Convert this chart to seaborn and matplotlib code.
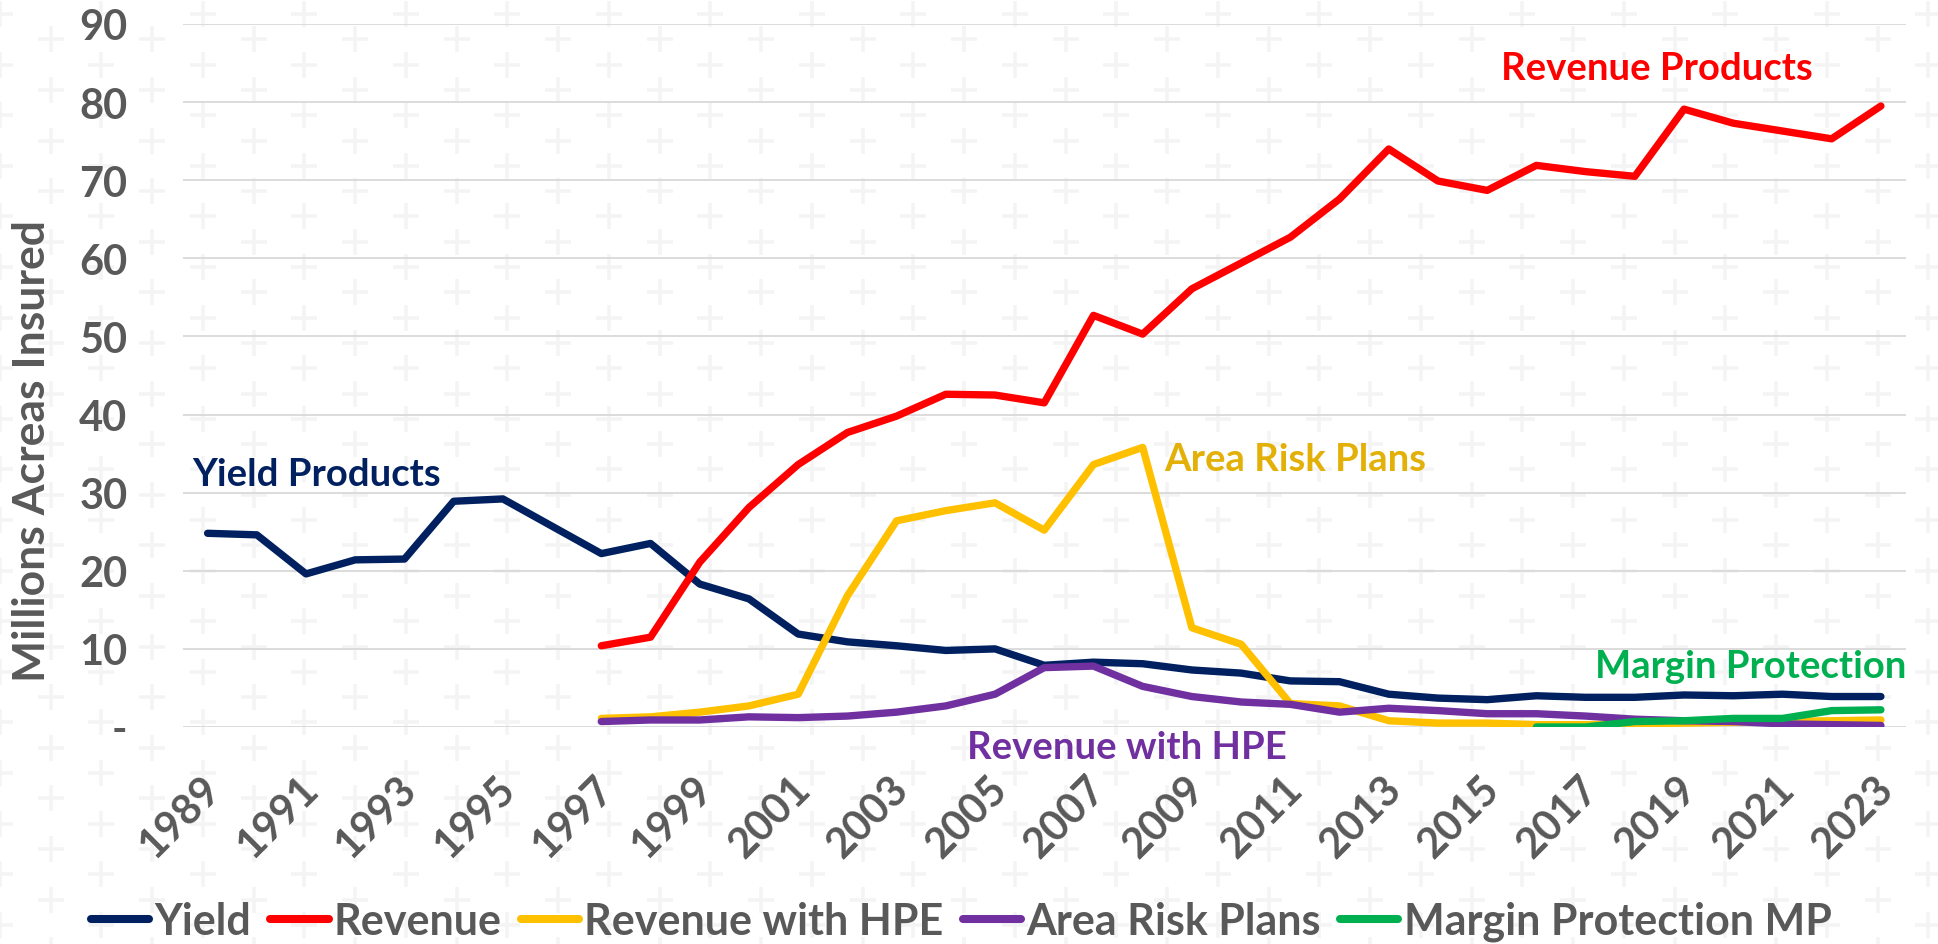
import numpy as np
import pandas as pd
import matplotlib
matplotlib.use('Agg')
import matplotlib.pyplot as plt
import matplotlib.transforms as mtransforms
from matplotlib.lines import Line2D
from matplotlib.ticker import FuncFormatter
import seaborn as sns

# millions of acres insured, by plan type
yield_start = 1989
yield_vals = [24.8, 24.6, 19.6, 21.4, 21.5, 28.9, 29.2, 25.7, 22.2, 23.5,
              18.3, 16.4, 11.9, 10.9, 10.4, 9.8, 10.0, 7.9, 8.3, 8.1,
              7.3, 6.9, 5.9, 5.8, 4.2, 3.7, 3.5, 4.0, 3.8, 3.8,
              4.1, 4.0, 4.2, 3.9, 3.9]
revenue_start = 1997
revenue_vals = [10.4, 11.5, 21.1, 28.1, 33.6, 37.7, 39.8, 42.6, 42.5, 41.5,
                52.7, 50.3, 56.1, 59.4, 62.7, 67.6, 74.0, 69.9, 68.7, 71.9,
                71.1, 70.5, 79.1, 77.3, 76.3, 75.3, 79.5]
hpe_start = 1997
hpe_vals = [1.1, 1.3, 1.9, 2.7, 4.2, 16.8, 26.4, 27.7, 28.7, 25.2,
            33.6, 35.8, 12.7, 10.6, 3.0, 2.7, 0.8, 0.5, 0.5, 0.3,
            0.3, 0.4, 0.5, 0.6, 0.7, 0.8, 0.9]
area_start = 1997
area_vals = [0.7, 0.9, 0.9, 1.3, 1.2, 1.4, 1.9, 2.7, 4.2, 7.6,
             7.8, 5.2, 3.9, 3.2, 2.9, 1.9, 2.4, 2.1, 1.7, 1.7,
             1.4, 1.0, 0.8, 0.7, 0.4, 0.3, 0.2]
margin_start = 2016
margin_vals = [0.0, 0.0, 0.7, 0.8, 1.1, 1.1, 2.1, 2.2]

series_names = ['Yield', 'Revenue', 'Revenue with HPE', 'Area Risk Plans', 'Margin Protection MP']
series_colors = ['#002060', '#FF0000', '#FFC000', '#7030A0', '#00B050']
tick_years = list(range(1989, 2024, 2))

gray = '#595959'

sns.set_style('white')
plt.rcParams['font.family'] = ['Lato', 'DejaVu Sans']
plt.rcParams['font.weight'] = 'bold'

fig = plt.figure(figsize=(19.38, 9.45), dpi=100)
fig.patch.set_facecolor('white')

# faint "+" watermark pattern behind everything
bg = fig.add_axes([0, 0, 1, 1], zorder=-5)
bg.set_xlim(0, 1938)
bg.set_ylim(945, 0)
bg.axis('off')
px, py = [], []
for j, yy in enumerate(np.arange(15, 960, 25.3)):
    for xx in np.arange(50.75 * (j % 2), 1990, 101.5):
        px.append(xx)
        py.append(yy)
bg.scatter(px, py, marker='+', s=360, linewidths=2.6, color='#F4F4F4')

ax = fig.add_axes([183 / 1938, 1 - 728 / 945, (1905.5 - 183) / 1938, (728 - 25) / 945])
ax.set_facecolor('none')

frames = []
for name, start, vals in [('Yield', yield_start, yield_vals),
                          ('Revenue', revenue_start, revenue_vals),
                          ('Revenue with HPE', hpe_start, hpe_vals),
                          ('Area Risk Plans', area_start, area_vals),
                          ('Margin Protection MP', margin_start, margin_vals)]:
    frames.append(pd.DataFrame({'year': list(range(start, start + len(vals))),
                                'acres': vals, 'series': name}))
df = pd.concat(frames, ignore_index=True)

sns.lineplot(data=df, x='year', y='acres', hue='series', hue_order=series_names,
             palette=series_colors, legend=False, ax=ax, zorder=3)
for ln in ax.lines:
    ln.set_linewidth(5.3)
    ln.set_solid_joinstyle('round')
    ln.set_solid_capstyle('round')

ax.set_xlim(1988.5, 2023.5)
ax.set_ylim(0, 90)
ax.set_yticks(range(0, 91, 10))
ax.yaxis.set_major_formatter(FuncFormatter(lambda v, p: '-' if v == 0 else f'{int(v)}'))
ax.set_xticks(tick_years)
ax.set_xticklabels([str(y) for y in tick_years], rotation=45, ha='right',
                   va='center', rotation_mode='anchor')
ax.tick_params(axis='x', length=0, pad=40, labelsize=30, labelcolor=gray)
ax.tick_params(axis='y', length=0, pad=40, labelsize=30, labelcolor=gray)
shift = mtransforms.ScaledTranslation(6 / 100, 0, fig.dpi_scale_trans)
for lab in ax.get_xticklabels():
    lab.set_transform(lab.get_transform() + shift)
    lab.set_fontweight('bold')
for lab in ax.get_yticklabels():
    lab.set_fontweight('bold')

ax.yaxis.grid(True, color='#D9D9D9', linewidth=1.3)
ax.xaxis.grid(False)
ax.set_axisbelow(True)
for s in ax.spines.values():
    s.set_visible(False)

ax.set_xlabel('')
ax.set_ylabel('Millions Acreas Insured', fontsize=32, fontweight='bold', color=gray)
ax.yaxis.set_label_coords(-0.0877, 0.394)
ax.yaxis.label.set_va('center')

# series annotations
ax.text(1988.68, 32.4, 'Yield Products', color='#002060', fontsize=27.5,
        fontweight='bold', ha='left', va='center')
ax.text(2015.28, 84.4, 'Revenue Products', color='#FF0000', fontsize=27.5,
        fontweight='bold', ha='left', va='center')
ax.text(2008.43, 34.3, 'Area Risk Plans', color='#E2B007', fontsize=27.5,
        fontweight='bold', ha='left', va='center')
ax.text(2004.44, -2.6, 'Revenue with HPE', color='#7030A0', fontsize=27.5,
        fontweight='bold', ha='left', va='center')
ax.text(2017.2, 7.8, 'Margin Protection', color='#00B050', fontsize=27.5,
        fontweight='bold', ha='left', va='center')

handles = [Line2D([0], [0], color=c, linewidth=5.8, solid_capstyle='round')
           for c in series_colors]
fig.legend(handles, series_names, loc='center', bbox_to_anchor=(0.496, 1 - 922 / 945),
           ncol=5, frameon=False, handlelength=1.35, handletextpad=0.12,
           columnspacing=0.45, prop={'size': 31, 'weight': 'bold'}, labelcolor=gray)

fig.savefig('out.png', dpi=100, facecolor='white')
